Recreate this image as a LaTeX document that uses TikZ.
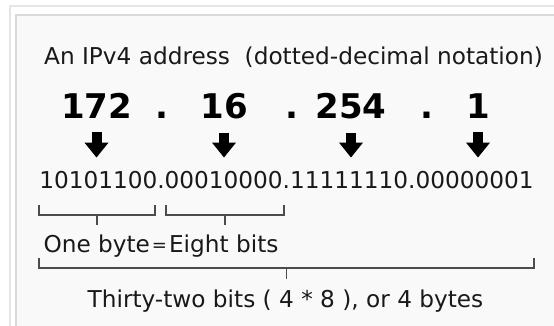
\documentclass[tikz,border=0pt]{standalone}
\usepackage{fontspec}
\setmainfont{DejaVu Sans}
\usetikzlibrary{positioning,calc,arrows.meta}

\tikzset{
  txt/.style={inner sep=0pt, anchor=base, text=black!90,
    font=\fontsize{23.2}{28}\selectfont},
  num/.style={inner sep=0pt, anchor=base, text=black,
    font=\fontsize{34}{40}\selectfont\bfseries},
  bigarrow/.style={line width=10pt, -{Triangle[width=23pt,length=15pt]}},
  bracket/.style={draw=black!70, line width=1.4pt},
}

\begin{document}
\begin{tikzpicture}[x=1pt,y=-1pt]
    \useasboundingbox (0,0) rectangle (554,325);
    \fill[white] (0,0) rectangle (554,325);

    % frame
    \draw[gray!20, line width=1.5pt] (10,330) -- (10,6) -- (560,6);
    \filldraw[fill=gray!5, draw=gray!30, line width=1.5pt]
        (16,330) -- (16,15) -- (560,15) -- (560,330) -- cycle;

    \node[txt] (title) at (293.5,64) {An IPv4 address\ \ (dotted-decimal notation)};

    \node[num] (n1) at (96.5,118) {172};
    \node[num] (d1) at (162,118) {.};
    \node[num] (n2) at (224,118) {16};
    \node[num] (d2) at (292,118) {.};
    \node[num] (n3) at (351,118) {254};
    \node[num] (d3) at (427,118) {.};
    \node[num] (n4) at (478,118) {1};

    \node[txt] (bin) at (286.5,188) {10101100.00010000.11111110.00000001};

    \foreach \n in {n1,n2,n3,n4}
        \draw[bigarrow] ($(\n.south)+(0,14)$) -- ($(\n.south |- bin.north)+(0,-13)$);

    % one byte
    \coordinate (a1) at (39,205);
    \coordinate (a2) at (155,205);
    \coordinate (b1) at (166,205);
    \coordinate (b2) at (284,205);
    \draw[bracket] (a1) -- ++(0,10) -| (a2);
    \draw[bracket] ($(a1)!0.5!(a2)+(0,10)$) -- ++(0,10);
    \draw[bracket] (b1) -- ++(0,10) -| (b2);
    \draw[bracket] ($(b1)!0.5!(b2)+(0,10)$) -- ++(0,10);

    \node[txt] (byte) at (161,252)
        {One byte\kern2pt\raisebox{1pt}{\fontsize{18}{20}\selectfont=}\kern2ptEight bits};

    % all four bytes
    \coordinate (c1) at (39,258);
    \coordinate (c2) at (534,258);
    \draw[bracket] (c1) -- ++(0,10) -| (c2);
    \draw[bracket] ($(c1)!0.5!(c2)+(0,10)$) -- ++(0,11);

    \node[txt] (total) at (285.5,307) {Thirty-two bits ( 4 * 8 ), or 4 bytes};
\end{tikzpicture}
\end{document}
